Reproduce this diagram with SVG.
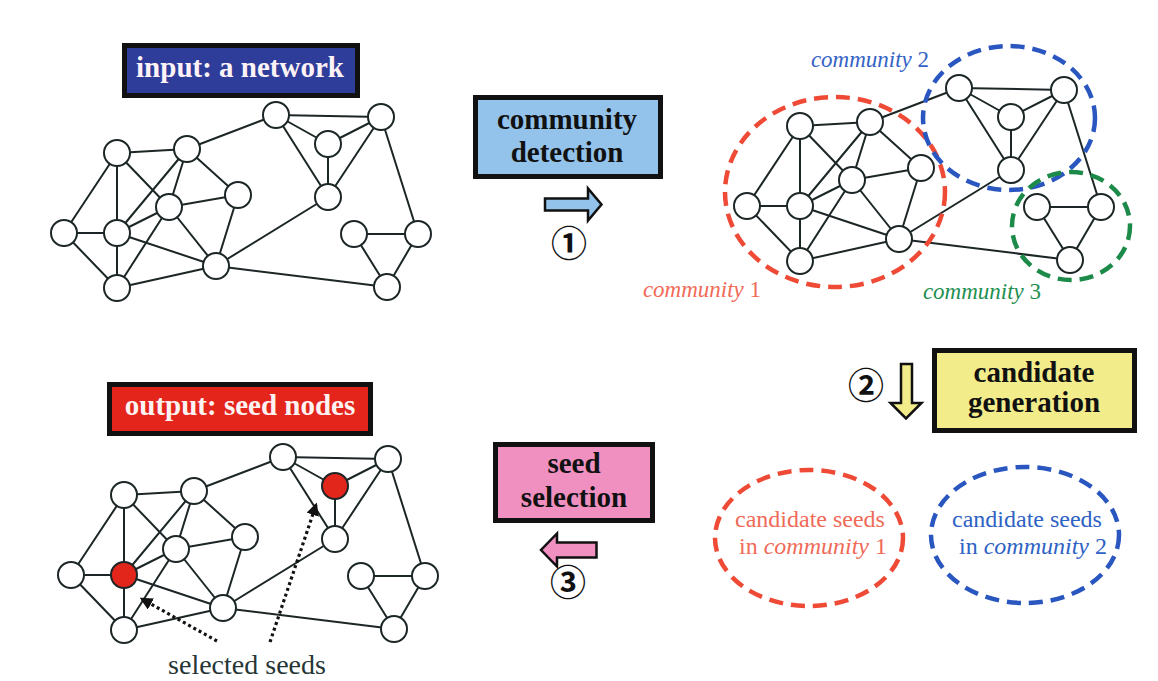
<svg xmlns="http://www.w3.org/2000/svg" width="1158" height="681" viewBox="0 0 1158 681">
<defs>
<style>
.e{stroke:#1c2626;stroke-width:2;fill:none}
.n{fill:#fff;stroke:#1c2626;stroke-width:2}
.s{fill:#e2261c;stroke:#1c2626;stroke-width:2}
.box{stroke:#111;stroke-width:5}
.bt{font-family:"Liberation Serif",serif;font-weight:bold;font-size:29px;text-anchor:middle}
.lbl{font-family:"Liberation Serif",serif;font-size:23px;font-style:italic;text-anchor:middle}
.cand{font-family:"Liberation Serif",serif;font-size:24px;text-anchor:middle}
.num{font-family:"Noto Sans CJK JP","DejaVu Sans",sans-serif;font-size:36px;font-weight:bold;text-anchor:middle;fill:#111}
.arr{stroke:#111;stroke-width:2.5;stroke-linejoin:miter}
.dash{fill:none;stroke-width:4.5;stroke-dasharray:14 8}
.dot{stroke:#111;stroke-width:3.2;stroke-dasharray:3 3;fill:none}
</style>
<marker id="ah" viewBox="0 0 10 10" refX="8" refY="5" markerWidth="4" markerHeight="4" orient="auto" markerUnits="strokeWidth">
<path d="M0,0 L10,5 L0,10 z" fill="#111"/>
</marker>
</defs>
<rect width="1158" height="681" fill="#fff"/>

<!-- Network 1: input -->
<g id="net-input">
<g id="net-input-edges">
<path class="e" d="M117,153L187,149M117,153L64,233M117,153L117,233M117,153L169,207M187,149L276,115M187,149L169,207M187,149L238,195M187,149L117,233M276,115L381,117M276,115L328,144M276,115L328,197M381,117L328,144M381,117L328,197M381,117L418,234M328,144L328,197M238,195L169,207M238,195L216,266M169,207L117,233M169,207L216,266M169,207L117,288M328,197L216,266M64,233L117,233M64,233L117,288M117,233L117,288M117,233L216,266M216,266L117,288M216,266L387,287M354,234L418,234M354,234L387,287M418,234L387,287"/>
</g>
<g id="in-A"><circle class="n" cx="117" cy="153" r="13"/></g>
<g id="in-B"><circle class="n" cx="187" cy="149" r="13"/></g>
<g id="in-C"><circle class="n" cx="276" cy="115" r="13"/></g>
<g id="in-D"><circle class="n" cx="381" cy="117" r="13"/></g>
<g id="in-E"><circle class="n" cx="328" cy="144" r="13"/></g>
<g id="in-F"><circle class="n" cx="238" cy="195" r="13"/></g>
<g id="in-G"><circle class="n" cx="169" cy="207" r="13"/></g>
<g id="in-H"><circle class="n" cx="328" cy="197" r="13"/></g>
<g id="in-I"><circle class="n" cx="64" cy="233" r="13"/></g>
<g id="in-J"><circle class="n" cx="117" cy="233" r="13"/></g>
<g id="in-K"><circle class="n" cx="216" cy="266" r="13"/></g>
<g id="in-L"><circle class="n" cx="354" cy="234" r="13"/></g>
<g id="in-M"><circle class="n" cx="418" cy="234" r="13"/></g>
<g id="in-N"><circle class="n" cx="117" cy="288" r="13"/></g>
<g id="in-O"><circle class="n" cx="387" cy="287" r="13"/></g>
</g>

<!-- Network 2: communities -->
<g id="net-comm" transform="translate(683,-27)">
<g id="net-comm-edges">
<path class="e" d="M117,153L187,149M117,153L64,233M117,153L117,233M117,153L169,207M187,149L276,115M187,149L169,207M187,149L238,195M187,149L117,233M276,115L381,117M276,115L328,144M276,115L328,197M381,117L328,144M381,117L328,197M381,117L418,234M328,144L328,197M238,195L169,207M238,195L216,266M169,207L117,233M169,207L216,266M169,207L117,288M328,197L216,266M64,233L117,233M64,233L117,288M117,233L117,288M117,233L216,266M216,266L117,288M216,266L387,287M354,234L418,234M354,234L387,287M418,234L387,287"/>
</g>
<g id="cm-A"><circle class="n" cx="117" cy="153" r="13"/></g>
<g id="cm-B"><circle class="n" cx="187" cy="149" r="13"/></g>
<g id="cm-C"><circle class="n" cx="276" cy="115" r="13"/></g>
<g id="cm-D"><circle class="n" cx="381" cy="117" r="13"/></g>
<g id="cm-E"><circle class="n" cx="328" cy="144" r="13"/></g>
<g id="cm-F"><circle class="n" cx="238" cy="195" r="13"/></g>
<g id="cm-G"><circle class="n" cx="169" cy="207" r="13"/></g>
<g id="cm-H"><circle class="n" cx="328" cy="197" r="13"/></g>
<g id="cm-I"><circle class="n" cx="64" cy="233" r="13"/></g>
<g id="cm-J"><circle class="n" cx="117" cy="233" r="13"/></g>
<g id="cm-K"><circle class="n" cx="216" cy="266" r="13"/></g>
<g id="cm-L"><circle class="n" cx="354" cy="234" r="13"/></g>
<g id="cm-M"><circle class="n" cx="418" cy="234" r="13"/></g>
<g id="cm-N"><circle class="n" cx="117" cy="288" r="13"/></g>
<g id="cm-O"><circle class="n" cx="387" cy="287" r="13"/></g>
</g>

<!-- community ellipses -->
<g id="community-1"><ellipse class="dash" cx="835" cy="192" rx="110" ry="95" stroke="#ee4a36"/>
<text class="lbl" x="702" y="297" fill="#f06a58">community <tspan font-style="normal">1</tspan></text></g>
<g id="community-2"><ellipse class="dash" cx="1009" cy="118" rx="86" ry="72" stroke="#2a56c0"/>
<text class="lbl" x="870" y="67" fill="#3463c6">community <tspan font-style="normal">2</tspan></text></g>
<g id="community-3"><ellipse class="dash" cx="1071" cy="226" rx="59" ry="54" stroke="#1c8a48"/>
<text class="lbl" x="982" y="299" fill="#1e9050">community <tspan font-style="normal">3</tspan></text></g>

<!-- Network 3: output -->
<g id="net-output" transform="translate(7,342)">
<g id="net-output-edges">
<path class="e" d="M117,153L187,149M117,153L64,233M117,153L117,233M117,153L169,207M187,149L276,115M187,149L169,207M187,149L238,195M187,149L117,233M276,115L381,117M276,115L328,144M276,115L328,197M381,117L328,144M381,117L328,197M381,117L418,234M328,144L328,197M238,195L169,207M238,195L216,266M169,207L117,233M169,207L216,266M169,207L117,288M328,197L216,266M64,233L117,233M64,233L117,288M117,233L117,288M117,233L216,266M216,266L117,288M216,266L387,287M354,234L418,234M354,234L387,287M418,234L387,287"/>
</g>
<g id="out-A"><circle class="n" cx="117" cy="153" r="13"/></g>
<g id="out-B"><circle class="n" cx="187" cy="149" r="13"/></g>
<g id="out-C"><circle class="n" cx="276" cy="115" r="13"/></g>
<g id="out-D"><circle class="n" cx="381" cy="117" r="13"/></g>
<g id="out-E"><circle class="s" cx="328" cy="144" r="13"/></g>
<g id="out-F"><circle class="n" cx="238" cy="195" r="13"/></g>
<g id="out-G"><circle class="n" cx="169" cy="207" r="13"/></g>
<g id="out-H"><circle class="n" cx="328" cy="197" r="13"/></g>
<g id="out-I"><circle class="n" cx="64" cy="233" r="13"/></g>
<g id="out-J"><circle class="s" cx="117" cy="233" r="13"/></g>
<g id="out-K"><circle class="n" cx="216" cy="266" r="13"/></g>
<g id="out-L"><circle class="n" cx="354" cy="234" r="13"/></g>
<g id="out-M"><circle class="n" cx="418" cy="234" r="13"/></g>
<g id="out-N"><circle class="n" cx="117" cy="288" r="13"/></g>
<g id="out-O"><circle class="n" cx="387" cy="287" r="13"/></g>
</g>

<!-- selected seeds pointers -->
<g id="seed-pointers">
<line class="dot" x1="217" y1="641" x2="142" y2="599" marker-end="url(#ah)"/>
<line class="dot" x1="270" y1="642" x2="316" y2="505" marker-end="url(#ah)"/>
</g>
<g id="selected-seeds-label"><text x="247" y="674" font-family="Liberation Serif,serif" font-size="28" text-anchor="middle" fill="#253535">selected seeds</text></g>

<!-- title boxes -->
<g id="input-box"><rect class="box" x="124.5" y="45.5" width="233" height="50" fill="#2e3c9a"/>
<text class="bt" x="240" y="77" fill="#fdf3f6">input: a network</text></g>
<g id="output-box"><rect class="box" x="109.5" y="384.5" width="261" height="49" fill="#e3251c"/>
<text class="bt" x="240" y="415" fill="#fdf3f3">output: seed nodes</text></g>

<!-- step 1 -->
<g id="community-detection"><rect class="box" x="475.5" y="97.5" width="185" height="79" fill="#93c3ea"/>
<text class="bt" x="567" y="129" fill="#111">community</text>
<text class="bt" x="567" y="162" fill="#111">detection</text></g>
<g id="step1-arrow"><path class="arr" d="M545,198.5H588V188.5L601.5,204.5L588,220.5V210.5H545Z" fill="#93c3ea"/>
<text class="num" x="569" y="257">①</text></g>

<!-- step 2 -->
<g id="candidate-generation"><rect class="box" x="934.5" y="350.5" width="200" height="80" fill="#f2ec8a"/>
<text class="bt" x="1034" y="382" fill="#111">candidate</text>
<text class="bt" x="1034" y="412" fill="#111">generation</text></g>
<g id="step2-arrow"><path class="arr" d="M901,364H912V403H921.5L906,418.5L890.5,403H901Z" fill="#f2ec8a"/>
<text class="num" x="866" y="399">②</text></g>

<!-- step 3 -->
<g id="seed-selection"><rect class="box" x="495.5" y="444.5" width="157" height="76" fill="#ef90c0"/>
<text class="bt" x="574" y="473" fill="#111">seed</text>
<text class="bt" x="574" y="507" fill="#111">selection</text></g>
<g id="step3-arrow"><path class="arr" d="M596.5,542.5H557V533.5L541,550L557,566.5V557.5H596.5Z" fill="#ef90c0"/>
<text class="num" x="568" y="596">③</text></g>

<!-- candidate seeds -->
<g id="candidates-1"><ellipse class="dash" cx="809" cy="538" rx="94" ry="68" stroke="#ee4a36"/>
<text class="cand" x="810" y="527" fill="#f06a58">candidate seeds</text>
<text class="cand" x="813" y="554" fill="#f06a58">in <tspan font-style="italic">community</tspan> 1</text></g>
<g id="candidates-2"><ellipse class="dash" cx="1025" cy="535" rx="94" ry="68" stroke="#2a56c0"/>
<text class="cand" x="1027" y="527" fill="#2e62c4">candidate seeds</text>
<text class="cand" x="1033" y="554" fill="#2e62c4">in <tspan font-style="italic">community</tspan> 2</text></g>
</svg>
